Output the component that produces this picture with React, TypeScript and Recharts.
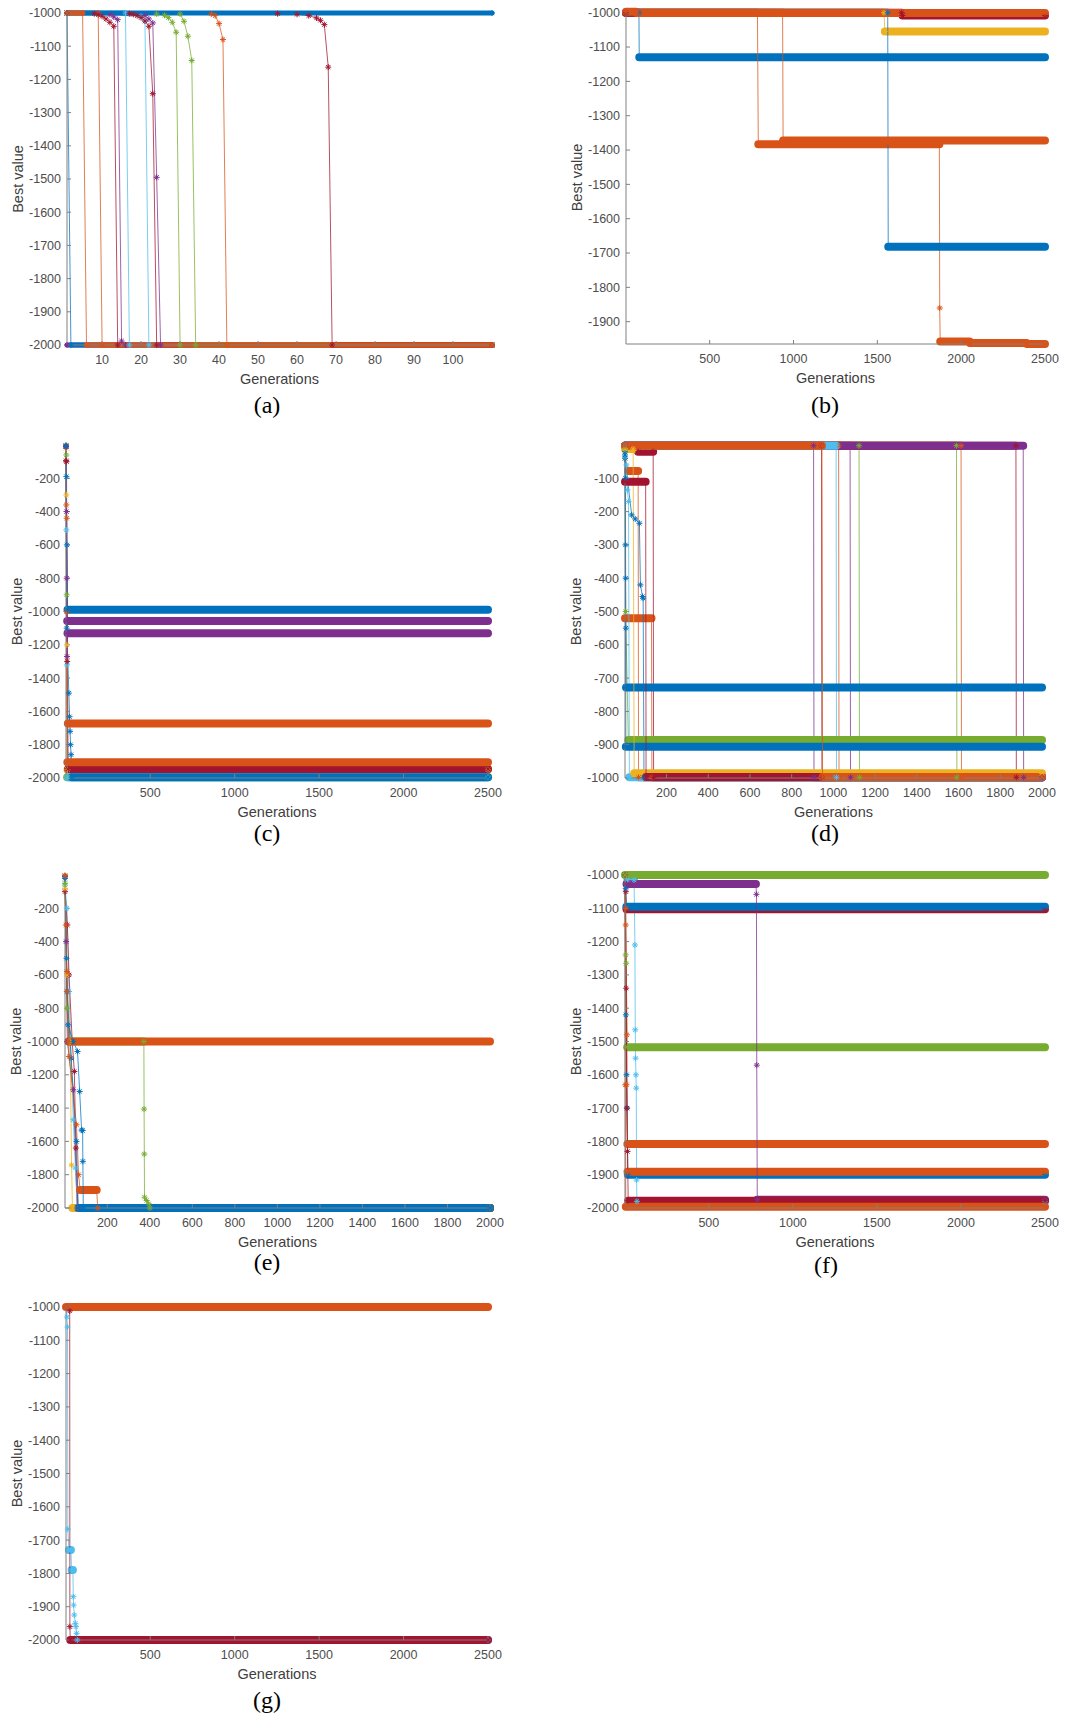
import React from "react";
import { LineChart, Line, XAxis, YAxis } from "recharts";

// MATLAB default colour order, a run keeps the colour of its index
const COLORS = ["#0072BD", "#D95319", "#EDB120", "#7E2F8E", "#77AC30", "#4DBEEE", "#A2142F"];

type Run = { c: number; p: number[][] };

// ---- ticks ----
const xTicksA = [10, 20, 30, 40, 50, 60, 70, 80, 90, 100];
const yTicksK = [-2000, -1900, -1800, -1700, -1600, -1500, -1400, -1300, -1200, -1100, -1000];
const yTicksB = [-1900, -1800, -1700, -1600, -1500, -1400, -1300, -1200, -1100, -1000];
const xTicks2500 = [500, 1000, 1500, 2000, 2500];
const xTicks2000 = [200, 400, 600, 800, 1000, 1200, 1400, 1600, 1800, 2000];
const yTicks2000 = [-2000, -1800, -1600, -1400, -1200, -1000, -800, -600, -400, -200];
const yTicks1000 = [-1000, -900, -800, -700, -600, -500, -400, -300, -200, -100];

// ---- (a) ----
const runsA: Run[] = [
  { c: 3, p: [[1, -2000], [110, -2000]] },
  { c: 0, p: [[1, -1000], [2, -2000], [110, -2000]] },
  { c: 1, p: [[1, -1000], [9, -1000], [10, -2000], [110, -2000]] },
  { c: 6, p: [[1, -1000], [8, -1002], [9, -1005], [10, -1010], [11, -1018], [12, -1028], [13, -1040], [14, -2000], [110, -2000]] },
  { c: 3, p: [[1, -1000], [12, -1005], [13, -1012], [14, -1020], [15, -1988], [16, -2000], [110, -2000]] },
  { c: 5, p: [[1, -1000], [16, -1000], [17, -2000], [110, -2000]] },
  { c: 5, p: [[1, -1000], [20, -1010], [21, -1025], [22, -2000], [110, -2000]] },
  { c: 6, p: [[1, -1000], [17, -1002], [18, -1004], [19, -1008], [20, -1014], [21, -1024], [22, -1040], [23, -1243], [24, -2000], [110, -2000]] },
  { c: 3, p: [[1, -1000], [21, -1008], [22, -1018], [23, -1030], [24, -1495], [25, -2000], [110, -2000]] },
  { c: 4, p: [[1, -1000], [24, -1003], [26, -1007], [27, -1014], [28, -1028], [29, -1058], [30, -2000], [110, -2000]] },
  { c: 4, p: [[1, -1000], [30, -1003], [31, -1025], [32, -1070], [33, -1143], [34, -2000], [110, -2000]] },
  { c: 1, p: [[1, -1000], [38, -1003], [39, -1008], [40, -1032], [41, -1080], [42, -2000], [110, -2000]] },
  { c: 6, p: [[1, -1000], [55, -1002], [60, -1004], [63, -1008], [65, -1015], [66, -1022], [67, -1035], [68, -1163], [69, -2000], [110, -2000]] },
  { c: 0, p: [[1, -1000], [110, -1000]] },
  { c: 1, p: [[1, -1000], [5, -1000], [6, -2000], [110, -2000]] },
];

// ---- (b) ----
const runsB: Run[] = [
  { c: 0, p: [[1, -1000], [78, -1000], [80, -1130], [2500, -1130]] },
  { c: 1, p: [[1, -1000], [785, -1000], [790, -1383], [1870, -1383], [1872, -1860], [1875, -1958], [2050, -1958], [2052, -1962], [2390, -1962], [2392, -1965], [2500, -1965]] },
  { c: 2, p: [[1, -1000], [1540, -1000], [1545, -1055], [2500, -1055]] },
  { c: 0, p: [[1, -1000], [1562, -1000], [1565, -1682], [2500, -1682]] },
  { c: 1, p: [[1, -1000], [935, -1000], [938, -1372], [2500, -1372]] },
  { c: 6, p: [[1, -1000], [1645, -1000], [1650, -1008], [2500, -1008]] },
  { c: 1, p: [[1, -997], [60, -997], [65, -1001], [2500, -1001]] },
];

// ---- (c) ----
const runsC: Run[] = [
  { c: 4, p: [[1, -2], [3, -60], [5, -900], [8, -1995], [2500, -1995]] },
  { c: 2, p: [[1, -20], [3, -300], [6, -1200], [10, -1950], [2500, -1950]] },
  { c: 5, p: [[1, -10], [3, -510], [6, -1321], [12, -1995], [2500, -1995]] },
  { c: 0, p: [[1, -5], [5, -1100], [18, -1490], [22, -1632], [25, -1720], [28, -1800], [31, -1860], [35, -1995], [2500, -1995]] },
  { c: 6, p: [[1, -94], [4, -100], [8, -1300], [14, -1946], [2500, -1946]] },
  { c: 1, p: [[1, -8], [4, -1000], [9, -1906], [2500, -1906]] },
  { c: 1, p: [[1, -5], [3, -360], [5, -440], [8, -1000], [12, -1672], [2500, -1672]] },
  { c: 3, p: [[1, -10], [5, -800], [7, -1270], [10, -1131], [2500, -1131]] },
  { c: 3, p: [[1, -10], [4, -400], [8, -1057], [2500, -1057]] },
  { c: 0, p: [[1, -5], [3, -190], [6, -600], [10, -990], [2500, -990]] },
];

// ---- (d) ----
const runsD: Run[] = [
  { c: 3, p: [[1, -2], [905, -2], [907, -998], [2000, -998]] },
  { c: 6, p: [[1, -2], [943, -2], [945, -998], [2000, -998]] },
  { c: 1, p: [[1, -2], [1025, -2], [1027, -998], [2000, -998]] },
  { c: 3, p: [[1, -2], [1080, -2], [1082, -998], [2000, -998]] },
  { c: 4, p: [[1, -2], [1123, -2], [1125, -998], [2000, -998]] },
  { c: 4, p: [[1, -2], [1590, -2], [1592, -998], [2000, -998]] },
  { c: 1, p: [[1, -2], [1612, -2], [1614, -998], [2000, -998]] },
  { c: 6, p: [[1, -2], [1875, -2], [1877, -998], [2000, -998]] },
  { c: 1, p: [[1, -520], [128, -520], [130, -998], [2000, -998]] },
  { c: 1, p: [[1, -40], [17, -78], [64, -78], [66, -998], [2000, -998]] },
  { c: 6, p: [[1, -5], [64, -20], [136, -20], [138, -998], [2000, -998]] },
  { c: 0, p: [[1, -40], [33, -210], [50, -222], [70, -235], [75, -420], [85, -455], [88, -460], [92, -998], [2000, -998]] },
  { c: 5, p: [[1, -35], [8, -60], [12, -135], [18, -170], [22, -998], [2000, -998]] },
  { c: 3, p: [[1, -2], [1910, -2], [1912, -998], [2000, -998]] },
  { c: 5, p: [[1, -2], [1013, -2], [1015, -998], [2000, -998]] },
  { c: 4, p: [[1, -10], [4, -500], [17, -886], [2000, -886]] },
  { c: 0, p: [[1, -30], [3, -300], [5, -906], [2000, -906]] },
  { c: 0, p: [[1, -20], [3, -100], [4, -400], [5, -550], [6, -728], [2000, -728]] },
  { c: 2, p: [[1, -12], [40, -12], [45, -986], [2000, -986]] },
  { c: 6, p: [[1, -110], [100, -110], [102, -997], [2000, -997]] },
  { c: 1, p: [[1, -2], [945, -2], [948, -997], [2000, -997]] },
];

// ---- (e) ----
const runsE: Run[] = [
  { c: 3, p: [[1, -10], [6, -400], [12, -1000], [40, -1290], [58, -2000], [2000, -2000]] },
  { c: 5, p: [[1, -60], [10, -200], [20, -700], [40, -1470], [50, -1760], [60, -2000], [2000, -2000]] },
  { c: 6, p: [[1, -100], [12, -300], [20, -600], [35, -1000], [45, -1180], [52, -1640], [62, -2000], [2000, -2000]] },
  { c: 2, p: [[1, -80], [10, -600], [25, -1000], [32, -1742], [36, -2000], [2000, -2000]] },
  { c: 4, p: [[1, -50], [10, -800], [20, -1000], [372, -1000], [373, -1406], [374, -1676], [375, -1935], [385, -1955], [395, -1975], [400, -2000], [2000, -2000]] },
  { c: 0, p: [[1, -20], [10, -700], [30, -1100], [55, -1600], [63, -2000], [2000, -2000]] },
  { c: 1, p: [[1, -3], [10, -580], [20, -1090], [55, -1500], [65, -1800], [72, -1892], [150, -1892], [155, -2000], [2000, -2000]] },
  { c: 0, p: [[1, -10], [8, -500], [15, -900], [40, -1000], [60, -1060], [70, -1300], [79, -1531], [84, -1535], [85, -1720], [87, -2000], [2000, -2000]] },
  { c: 1, p: [[1, -5], [5, -300], [10, -700], [17, -1000], [2000, -1000]] },
];

// ---- (f) ----
const runsF: Run[] = [
  { c: 5, p: [[1, -1000], [15, -1015], [55, -1015], [60, -1210], [62, -1465], [64, -1550], [66, -1600], [68, -1640], [70, -1916], [72, -1980], [2500, -1980]] },
  { c: 6, p: [[1, -1000], [6, -1050], [10, -1103], [2500, -1103]] },
  { c: 0, p: [[1, -1000], [5, -1040], [9, -1095], [2500, -1095]] },
  { c: 4, p: [[1, -1000], [5, -1240], [8, -1265], [14, -1517], [2500, -1517]] },
  { c: 1, p: [[1, -1000], [5, -1150], [10, -1630], [15, -1808], [2500, -1808]] },
  { c: 0, p: [[1, -1000], [6, -1420], [10, -1600], [14, -1700], [18, -1900], [2500, -1900]] },
  { c: 1, p: [[1, -1000], [6, -1100], [12, -1480], [16, -1891], [2500, -1891]] },
  { c: 3, p: [[1, -1000], [10, -1027], [780, -1027], [783, -1058], [785, -1571], [788, -1975], [2500, -1975]] },
  { c: 6, p: [[1, -1000], [8, -1340], [12, -1700], [16, -1830], [20, -1978], [2500, -1978]] },
  { c: 1, p: [[1, -1000], [3, -1630], [6, -1996], [2500, -1996]] },
  { c: 4, p: [[1, -1000], [2500, -1000]] },
];

// ---- (g) ----
const runsG: Run[] = [
  { c: 5, p: [[1, -1000], [6, -1030], [10, -1060], [12, -1667], [18, -1730], [30, -1730], [34, -1790], [42, -1790], [44, -1870], [46, -1895], [50, -1925], [56, -1950], [60, -1960], [64, -1980], [68, -2000], [2500, -2000]] },
  { c: 6, p: [[1, -1000], [23, -1012], [24, -1960], [26, -2000], [2500, -2000]] },
  { c: 1, p: [[1, -1000], [2500, -1000]] },
];

const SANS = '"Liberation Sans", Arial, sans-serif';

const toPts = (p: number[][]) => p.map(([x, y]) => ({ x, y }));

// plateaus of a run: where the markers pile up into a thick band
const toBands = (p: number[][]) => {
  const out: { x: number; y: number | null }[] = [];
  for (let i = 0; i < p.length - 1; i++) {
    if (p[i][1] === p[i + 1][1]) {
      out.push({ x: p[i][0], y: p[i][1] }, { x: p[i + 1][0], y: p[i + 1][1] }, { x: p[i + 1][0], y: null });
    }
  }
  return out;
};

const Star = ({ cx, cy, color, r }: any) => {
  if (cx == null || cy == null) return null;
  const d = r * 0.707;
  return (
    <g stroke={color} strokeWidth={1}>
      <line x1={cx - r} y1={cy} x2={cx + r} y2={cy} />
      <line x1={cx} y1={cy - r} x2={cx} y2={cy + r} />
      <line x1={cx - d} y1={cy - d} x2={cx + d} y2={cy + d} />
      <line x1={cx - d} y1={cy + d} x2={cx + d} y2={cy - d} />
    </g>
  );
};

type PanelProps = {
  runs: Run[];
  box: number[]; // plot left, right, top, bottom on the page
  xDomain: number[];
  yDomain: number[];
  xTicks: number[];
  yTicks: number[];
  tag: string;
  tagPos: number[];
  band: number;
  star: number;
};

const Panel = ({ runs, box, xDomain, yDomain, xTicks, yTicks, tag, tagPos, band, star }: PanelProps) => {
  const [l, r, t, b] = box;
  const YW = 60;
  const MT = 12;
  const MR = 24;
  const XH = 45;
  const w = YW + (r - l) + MR;
  const h = MT + (b - t) + XH;
  const tick = { fill: "#4d4d4d", fontSize: 12.5, fontFamily: SANS };
  const title = { fill: "#404040", fontSize: 14.5, fontFamily: SANS };
  return (
    <>
      <div style={{ position: "absolute", left: l - YW, top: t - MT }}>
        <LineChart width={w} height={h} margin={{ top: MT, right: MR, bottom: 0, left: 0 }}>
          <XAxis
            type="number"
            dataKey="x"
            domain={xDomain}
            ticks={xTicks}
            interval={0}
            height={XH}
            stroke="#808080"
            tickSize={-4}
            tickMargin={14}
            tick={tick}
            label={{ value: "Generations", position: "insideBottom", offset: 6, style: title }}
          />
          <YAxis
            type="number"
            domain={yDomain}
            ticks={yTicks}
            interval={0}
            width={YW}
            stroke="#808080"
            tickSize={-4}
            tickMargin={10}
            tick={tick}
            label={{ value: "Best value", angle: -90, position: "insideLeft", offset: 11, style: { ...title, textAnchor: "middle" } }}
          />
          {runs.flatMap((run, i) => [
            <Line
              key={`band${i}`}
              data={toBands(run.p)}
              dataKey="y"
              type="linear"
              stroke={COLORS[run.c]}
              strokeWidth={band}
              strokeLinecap="round"
              dot={false}
              activeDot={false}
              connectNulls={false}
              isAnimationActive={false}
            />,
            <Line
              key={`line${i}`}
              data={toPts(run.p)}
              dataKey="y"
              type="linear"
              stroke={COLORS[run.c]}
              strokeWidth={1}
              strokeOpacity={0.75}
              dot={(d: any) => <Star key={`s${i}-${d.index}`} cx={d.cx} cy={d.cy} color={COLORS[run.c]} r={star} />}
              activeDot={false}
              isAnimationActive={false}
            />,
          ])}
        </LineChart>
      </div>
      <div
        style={{
          position: "absolute",
          left: tagPos[0] - 40,
          top: tagPos[1] - 15,
          width: 80,
          lineHeight: "30px",
          textAlign: "center",
          fontFamily: '"Liberation Serif", "Times New Roman", serif',
          fontSize: 24,
          color: "#000",
        }}
      >
        {tag}
      </div>
    </>
  );
};

export default function App() {
  return (
    <div style={{ position: "absolute", left: 0, top: 0, width: 1065, height: 1721, background: "#fff", overflow: "hidden" }}>
      <Panel runs={runsA} box={[67, 492, 13, 345]} xDomain={[1, 110]} yDomain={[-2000, -1000]} xTicks={xTicksA} yTicks={yTicksK} tag="(a)" tagPos={[267, 405]} band={5} star={3} />
      <Panel runs={runsB} box={[626, 1045, 11, 344]} xDomain={[1, 2500]} yDomain={[-1965, -995]} xTicks={xTicks2500} yTicks={yTicksB} tag="(b)" tagPos={[825, 405]} band={8} star={3} />
      <Panel runs={runsC} box={[66, 488, 445, 778]} xDomain={[1, 2500]} yDomain={[-2000, 0]} xTicks={xTicks2500} yTicks={yTicks2000} tag="(c)" tagPos={[267, 833]} band={8} star={3} />
      <Panel runs={runsD} box={[625, 1042, 445, 778]} xDomain={[1, 2000]} yDomain={[-1000, 0]} xTicks={xTicks2000} yTicks={yTicks1000} tag="(d)" tagPos={[825, 833]} band={8} star={3} />
      <Panel runs={runsE} box={[65, 490, 875, 1208]} xDomain={[1, 2000]} yDomain={[-2000, 0]} xTicks={xTicks2000} yTicks={yTicks2000} tag="(e)" tagPos={[267, 1262]} band={8} star={3} />
      <Panel runs={runsF} box={[625, 1045, 875, 1208]} xDomain={[1, 2500]} yDomain={[-2000, -1000]} xTicks={xTicks2500} yTicks={yTicksK} tag="(f)" tagPos={[826, 1265]} band={8} star={3} />
      <Panel runs={runsG} box={[66, 488, 1307, 1640]} xDomain={[1, 2500]} yDomain={[-2000, -1000]} xTicks={xTicks2500} yTicks={yTicksK} tag="(g)" tagPos={[267, 1700]} band={8} star={3} />
    </div>
  );
}
